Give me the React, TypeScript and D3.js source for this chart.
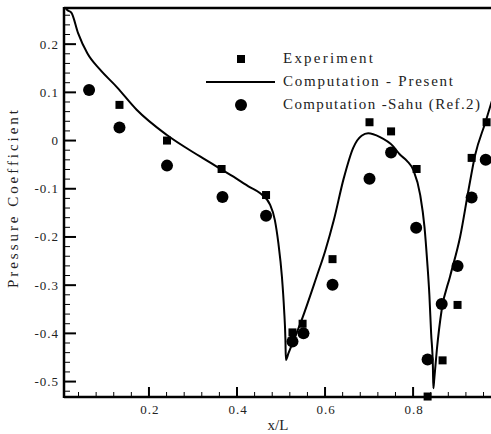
import React from "react";
import * as d3 from "d3";

const presentCurve: [number, number][] = [
  [0.004, 0.3], [0.013, 0.272], [0.024, 0.265], [0.039, 0.223], [0.06, 0.181],
  [0.089, 0.147], [0.127, 0.111], [0.172, 0.064], [0.24, 0.012], [0.316, -0.033],
  [0.392, -0.075], [0.43, -0.097], [0.452, -0.109], [0.475, -0.133], [0.486, -0.165],
  [0.494, -0.213], [0.502, -0.282], [0.507, -0.351], [0.51, -0.413], [0.511, -0.455],
  [0.517, -0.441], [0.547, -0.372], [0.581, -0.282], [0.6, -0.23], [0.62, -0.165],
  [0.642, -0.08], [0.664, -0.015], [0.683, 0.01], [0.698, 0.015], [0.725, 0.007],
  [0.755, -0.012], [0.77, -0.029], [0.786, -0.042], [0.801, -0.062], [0.816, -0.112],
  [0.826, -0.18], [0.832, -0.25], [0.837, -0.32], [0.841, -0.4], [0.845, -0.469],
  [0.846, -0.514], [0.848, -0.496], [0.854, -0.434], [0.865, -0.351], [0.884, -0.282],
  [0.907, -0.199], [0.926, -0.102], [0.941, -0.03], [0.964, 0.037], [0.985, 0.1],
];

const experimentX = [0.133, 0.241, 0.365, 0.466, 0.526, 0.549, 0.617, 0.701, 0.75, 0.808, 0.833, 0.867, 0.901, 0.933, 0.967];
const experimentY = [0.074, 0.0, -0.059, -0.113, -0.398, -0.38, -0.246, 0.038, 0.019, -0.059, -0.531, -0.456, -0.341, -0.036, 0.038];

const sahuX = [0.064, 0.133, 0.241, 0.367, 0.466, 0.526, 0.551, 0.617, 0.701, 0.75, 0.807, 0.833, 0.865, 0.901, 0.933, 0.965];
const sahuY = [0.105, 0.027, -0.052, -0.117, -0.156, -0.417, -0.4, -0.299, -0.079, -0.025, -0.181, -0.454, -0.339, -0.26, -0.118, -0.04];

const xMajorTicks = [0.2, 0.4, 0.6, 0.8];
const xMajorLabels = ["0.2", "0.4", "0.6", "0.8"];
const yMajorTicks = [0.2, 0.1, 0, -0.1, -0.2, -0.3, -0.4, -0.5];
const yMajorLabels = ["0.2", "0.1", "0", "-0.1", "-0.2", "-0.3", "-0.4", "-0.5"];

const legendLabels = ["Experiment", "Computation - Present", "Computation -Sahu (Ref.2)"];
const xTitle = "x/L";
const yTitle = "Pressure Coefficient";

const W = 491;
const H = 434;
const left = 64;
const right = 491;
const top = 8;
const bottom = 397;

export default function App() {
  const x = d3.scaleLinear().domain([0.007, 0.977]).range([left, right]);
  const y = d3.scaleLinear().domain([-0.532, 0.275]).range([bottom, top]);

  const line = d3
    .line<[number, number]>()
    .x((d) => x(d[0]))
    .y((d) => y(d[1]))
    .curve(d3.curveMonotoneX);

  const xMinor = d3.range(1, 25).map((i) => i * 0.04).filter((v) => v < 0.977 && !xMajorTicks.some((m) => Math.abs(m - v) < 1e-6));
  const yMinor = d3.range(-26, 14).map((i) => i * 0.02).filter((v) => v > -0.532 && v < 0.275 && !yMajorTicks.some((m) => Math.abs(m - v) < 1e-6));

  const font = "'Liberation Serif', 'DejaVu Serif', serif";
  const legendX = 283;
  const legendRows = [59, 82, 105];
  const legendLens = [90, 170, 197];

  return (
    <svg width={W} height={H} style={{ position: "absolute", left: 0, top: 0, background: "#fff" }}>
      <rect x={0} y={0} width={W} height={H} fill="#fff" />
      <defs>
        <clipPath id="plotclip">
          <rect x={left} y={top} width={right - left} height={bottom - top} />
        </clipPath>
      </defs>

      {/* minor ticks */}
      {xMinor.map((v, i) => (
        <line key={"xm" + i} x1={x(v)} x2={x(v)} y1={bottom} y2={bottom - 5} stroke="#000" strokeWidth={1} />
      ))}
      {xMajorTicks.map((v, i) => (
        <line key={"xM" + i} x1={x(v)} x2={x(v)} y1={bottom} y2={bottom - 10} stroke="#000" strokeWidth={2} />
      ))}
      {yMinor.map((v, i) => (
        <line key={"ym" + i} x1={left} x2={left + 6} y1={y(v)} y2={y(v)} stroke="#000" strokeWidth={1} />
      ))}
      {yMajorTicks.map((v, i) => (
        <line key={"yM" + i} x1={left} x2={left + 12} y1={y(v)} y2={y(v)} stroke="#000" strokeWidth={2} />
      ))}

      {/* axes and top border */}
      <line x1={left} x2={right} y1={top} y2={top} stroke="#000" strokeWidth={2.5} />
      <line x1={left} x2={right} y1={bottom} y2={bottom} stroke="#000" strokeWidth={2.5} />
      <line x1={left} x2={left} y1={top - 1} y2={bottom + 1} stroke="#000" strokeWidth={2.5} />

      {/* tick labels */}
      {xMajorTicks.map((v, i) => (
        <text key={"xl" + i} x={x(v) + 1} y={414} textAnchor="middle" fontFamily={font} fontSize={13} letterSpacing={1} fill="#222">
          {xMajorLabels[i]}
        </text>
      ))}
      {yMajorTicks.map((v, i) => (
        <text key={"yl" + i} x={59} y={y(v) + 4.5} textAnchor="end" fontFamily={font} fontSize={13} letterSpacing={1} fill="#222">
          {yMajorLabels[i]}
        </text>
      ))}

      {/* axis titles */}
      <text x={278} y={430} textAnchor="middle" fontFamily={font} fontSize={15} fill="#222">
        {xTitle}
      </text>
      <text
        transform={`translate(18, 199) rotate(-90)`}
        textAnchor="middle"
        fontFamily={font}
        fontSize={15}
        fill="#222"
        textLength={178}
        lengthAdjust="spacing"
      >
        {yTitle}
      </text>

      {/* curve */}
      <g clipPath="url(#plotclip)">
        <path d={line(presentCurve) || ""} fill="none" stroke="#000" strokeWidth={2} />
      </g>

      {/* experiment squares */}
      {experimentX.map((v, i) => (
        <rect key={"e" + i} x={x(v) - 4} y={y(experimentY[i]) - 4} width={8} height={8} fill="#000" />
      ))}
      {/* sahu circles */}
      {sahuX.map((v, i) => (
        <circle key={"s" + i} cx={x(v)} cy={y(sahuY[i])} r={6} fill="#000" />
      ))}

      {/* legend */}
      <rect x={241 - 4} y={legendRows[0] - 4} width={8} height={8} fill="#000" />
      <line x1={206} x2={275} y1={legendRows[1]} y2={legendRows[1]} stroke="#000" strokeWidth={2} />
      <circle cx={241} cy={legendRows[2]} r={6} fill="#000" />
      {legendLabels.map((t, i) => (
        <text
          key={"lg" + i}
          x={legendX}
          y={legendRows[i] + 4}
          fontFamily={font}
          fontSize={15}
          fill="#222"
          textLength={legendLens[i]}
          lengthAdjust="spacing"
        >
          {t}
        </text>
      ))}
    </svg>
  );
}
